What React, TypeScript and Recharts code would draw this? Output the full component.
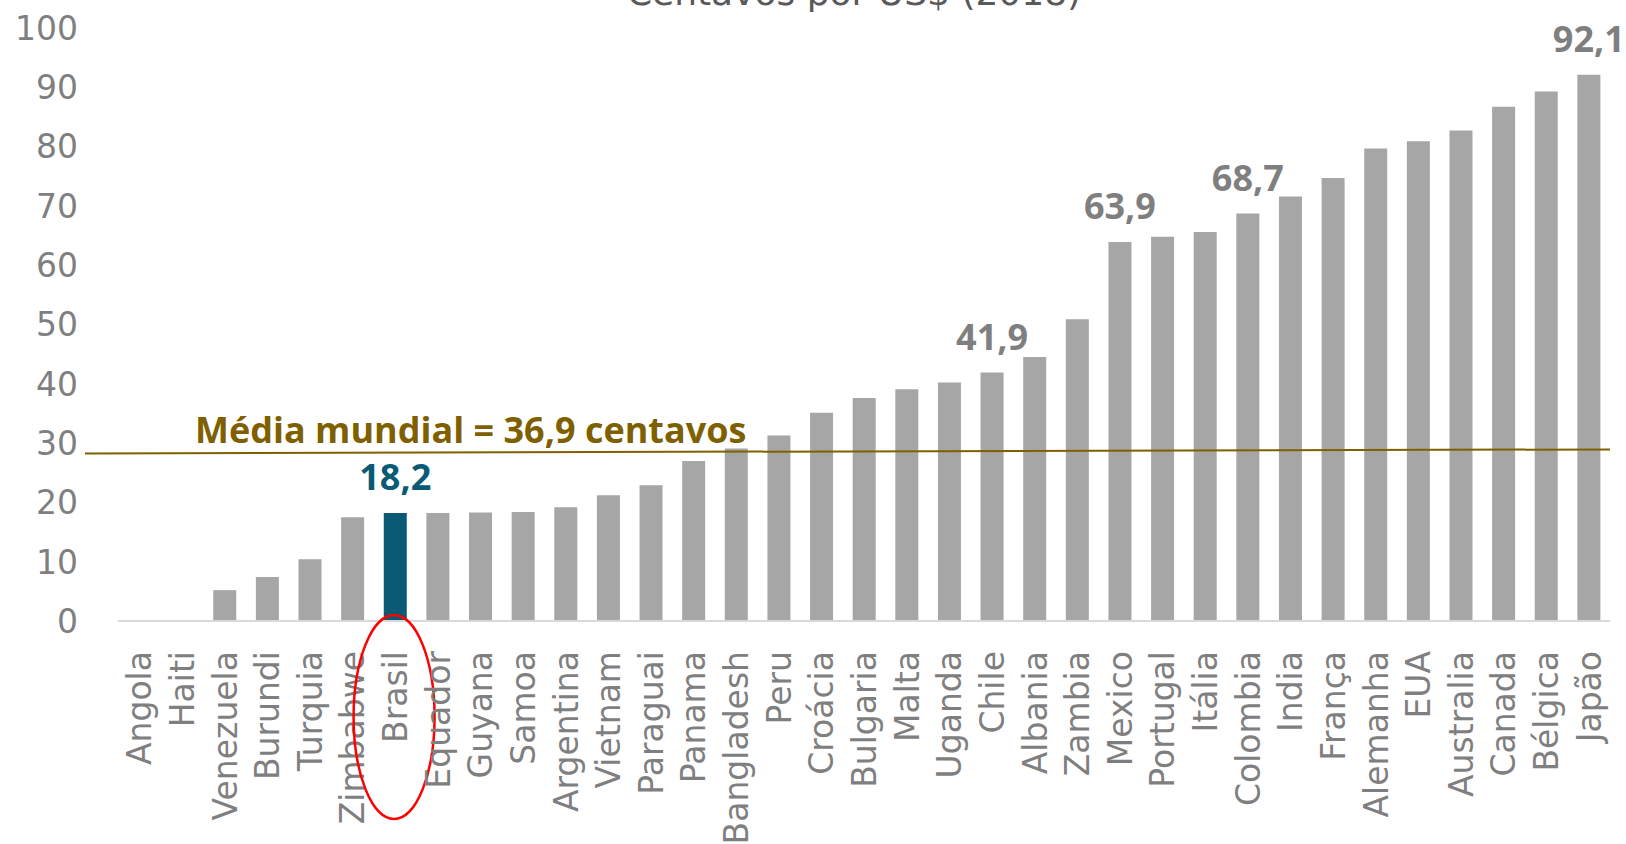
import React from 'react';
import { BarChart, Bar, XAxis, YAxis, Cell, ReferenceLine, LabelList } from 'recharts';

const countries = [
  'Angola', 'Haiti', 'Venezuela', 'Burundi', 'Turquia', 'Zimbabwe', 'Brasil', 'Equador', 'Guyana',
  'Samoa', 'Argentina', 'Vietnam', 'Paraguai', 'Panama', 'Bangladesh', 'Peru', 'Croácia', 'Bulgaria',
  'Malta', 'Uganda', 'Chile', 'Albania', 'Zambia', 'Mexico', 'Portugal', 'Itália', 'Colombia', 'India',
  'França', 'Alemanha', 'EUA', 'Australia', 'Canada', 'Bélgica', 'Japão',
];
const values = [
  0, 0, 5.2, 7.4, 10.4, 17.5, 18.2, 18.2, 18.3,
  18.4, 19.2, 21.2, 22.9, 27.0, 29.1, 31.3, 35.1, 37.6,
  39.1, 40.2, 41.9, 44.5, 50.9, 63.9, 64.8, 65.6, 68.7, 71.6,
  74.7, 79.7, 80.9, 82.7, 86.7, 89.3, 92.1,
];
const yTicks = [0, 10, 20, 30, 40, 50, 60, 70, 80, 90, 100];
const labeledCountries = ['Brasil', 'Chile', 'Mexico', 'Colombia', 'Japão'];
const highlightCountry = 'Brasil';
const averageLineLevel = 28.6;
const averageLabel = 'Média mundial = 36,9 centavos';
const title = 'Centavos por US$ (2018)';

const fmt = (v: number) => v.toFixed(1).replace('.', ',');

const data = countries.map((country, i) => {
  const labeled = labeledCountries.includes(country);
  const isHi = country === highlightCountry;
  return {
    country,
    value: values[i],
    grayLabel: labeled && !isHi ? fmt(values[i]) : '',
    hiLabel: labeled && isHi ? fmt(values[i]) : '',
  };
});

const GRAY_BAR = '#a6a6a6';
const HIGHLIGHT = '#0a5a75';
const TEXT_GRAY = '#7f7f7f';
const GOLD = '#7f6000';

const XTick = (props: any) => {
  const { x, payload } = props;
  const name = payload.value;
  return (
    <g>
      <text
        transform={`translate(${x + 12},651) rotate(-90)`}
        textAnchor="end"
        fontFamily="DejaVu Sans"
        fontSize={33}
        fill={TEXT_GRAY}
      >
        {name}
      </text>
      {name === highlightCountry && (
        <ellipse cx={x - 1} cy={717} rx={40.5} ry={102} fill="none" stroke="#ff0000" strokeWidth={2.5} />
      )}
    </g>
  );
};

const YTick = (props: any) => {
  const { y, payload } = props;
  return (
    <text x={78} y={y} dy="0.36em" textAnchor="end" fontFamily="DejaVu Sans" fontSize={33} fill={TEXT_GRAY}>
      {payload.value}
    </text>
  );
};

const makeLabel = (color: string) => (props: any) => {
  const { x, y, width, value } = props;
  if (!value) return null;
  return (
    <text
      x={Number(x) + Number(width) / 2}
      y={Number(y) - 23}
      textAnchor="middle"
      fontFamily="Open Sans"
      fontWeight={700}
      fontSize={36}
      fill={color}
    >
      {value}
    </text>
  );
};

const AverageShape = (p: any) => (
  <g>
    <line x1={85} y1={p.y1 + 2} x2={p.x2} y2={p.y2 - 2} stroke={GOLD} strokeWidth={2} />
    <text x={195} y={p.y1 - 8} fontFamily="Open Sans" fontWeight={700} fontSize={36} fill={GOLD}>
      {averageLabel}
    </text>
  </g>
);

export default function App() {
  return (
    <div style={{ position: 'absolute', left: 0, top: 0, width: 1626, height: 844, overflow: 'hidden', background: '#fff' }}>
      <BarChart width={1626} height={844} data={data} margin={{ top: 28, right: 16, left: 0, bottom: 0 }}>
        <XAxis
          dataKey="country"
          interval={0}
          height={223}
          tickLine={false}
          axisLine={{ stroke: '#d9d9d9', strokeWidth: 2 }}
          tick={<XTick />}
        />
        <YAxis
          width={118}
          domain={[0, 100]}
          ticks={yTicks}
          axisLine={false}
          tickLine={false}
          tick={<YTick />}
        />
        <Bar dataKey="value" barSize={23} isAnimationActive={false}>
          {data.map((d) => (
            <Cell key={d.country} fill={d.country === highlightCountry ? HIGHLIGHT : GRAY_BAR} />
          ))}
          <LabelList dataKey="grayLabel" content={makeLabel(TEXT_GRAY)} />
          <LabelList dataKey="hiLabel" content={makeLabel(HIGHLIGHT)} />
        </Bar>
        <ReferenceLine y={averageLineLevel} ifOverflow="visible" shape={AverageShape} />
      </BarChart>
      <svg width={1626} height={60} style={{ position: 'absolute', left: 0, top: 0, pointerEvents: 'none' }}>
        <text x={854} y={5} textAnchor="middle" fontFamily="DejaVu Sans" fontSize={36} fill="#595959">
          {title}
        </text>
      </svg>
    </div>
  );
}
